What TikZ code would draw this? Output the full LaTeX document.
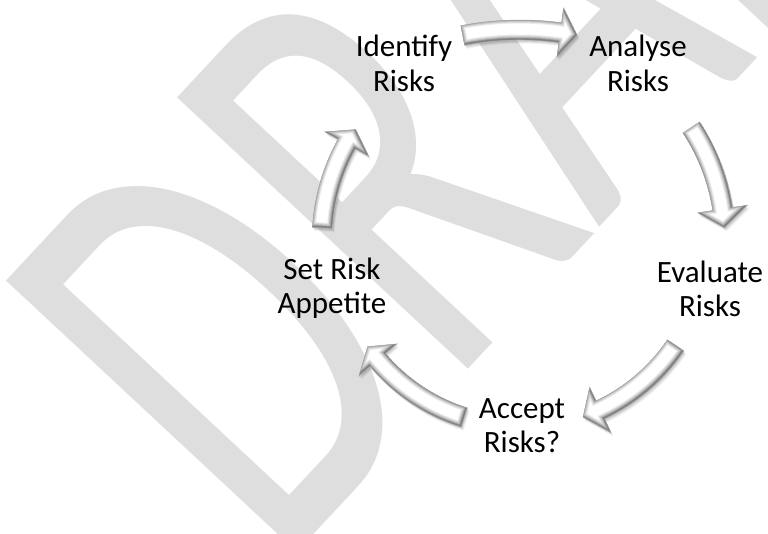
\documentclass[tikz,border=0pt]{standalone}
\usepackage{fontspec}
\setmainfont{Carlito}
\usetikzlibrary{calc}
\definecolor{wmark}{HTML}{DEDEDE}
\tikzset{
  stage/.style={align=center, inner sep=0pt, font=\fontsize{31}{34.5}\selectfont},
  arrowrim/.style={draw=black!35, line width=0.4pt},
  draftmark/.style={rotate=47, xscale=0.655, font=\fontsize{620}{620}\selectfont,
                    text=wmark, inner sep=0pt},
}
\newcommand\shaftw{10}
\newcommand\headw{25}
% outline of a curved block arrow round the current origin:
% #1 radius, #2 tail angle, #3 tip angle, #4 head angle
\newcommand\arrowoutline[4]{%
  (#2:#1+\shaftw) arc[start angle=#2, end angle=#3-#4, radius=#1+\shaftw]
  -- (#3-#4:#1+\headw) -- (#3:#1) -- (#3-#4:#1-\headw)
  -- (#3-#4:#1-\shaftw) arc[start angle=#3-#4, end angle=#2, radius=#1-\shaftw] -- cycle}
\newcommand\cyclearrow[4]{%
  \foreach \dx/\op in {3.5/0.05, 2.5/0.07, 1.5/0.09}
    \fill[black, opacity=\op, shift={(\dx*0.6,\dx)}] \arrowoutline{#1}{#2}{#3}{#4};
  \begin{scope}
    \clip \arrowoutline{#1}{#2}{#3}{#4};
    \fill[white] \arrowoutline{#1}{#2}{#3}{#4};
    \foreach \lw/\c in {9/8, 7/16, 5/26, 3/38, 1.4/50}
      \draw[black!\c, line width=\lw pt, shift={(-1,-1)}] \arrowoutline{#1}{#2}{#3}{#4};
  \end{scope}
  \draw[arrowrim] \arrowoutline{#1}{#2}{#3}{#4};
}

\begin{document}
\begin{tikzpicture}[x=1pt, y=-1pt]
  \useasboundingbox (0,0) rectangle (768,534);
  \clip (0,0) rectangle (768,534);
  % watermark
  \node[draftmark, anchor=base west] (draft) at (278,573) {DRAFT};

  \coordinate (hub)    at (520,240);
  \coordinate (hubtop) at (520,330);

  % cycle arrows
  \begin{scope}[shift={(hubtop)}]
    \cyclearrow{300}{-101}{-79}{3.3}
  \end{scope}
  \begin{scope}[shift={(hub)}]
    \cyclearrow{205}{-33.3}{-3.4}{5.3}
    \cyclearrow{188}{34.1}{70.4}{5.7}
    \cyclearrow{186}{107.4}{145}{5.2}
    \cyclearrow{198}{183.5}{213.9}{4.9}
  \end{scope}

  % stages
  \node[stage, anchor=base] (ident)    at (404,91.5) {Identify\\Risks};
  \node[stage, anchor=base] (analyse)  at (638,91.5) {Analyse\\Risks};
  \node[stage, anchor=base] (evaluate) at (710,317)  {Evaluate\\Risks};
  \node[stage, anchor=base] (accept)   at (522,452.5) {Accept\\Risks?};
  \node[stage, anchor=base] (appetite) at (332,314)  {Set Risk\\Appetite};
\end{tikzpicture}
\end{document}
